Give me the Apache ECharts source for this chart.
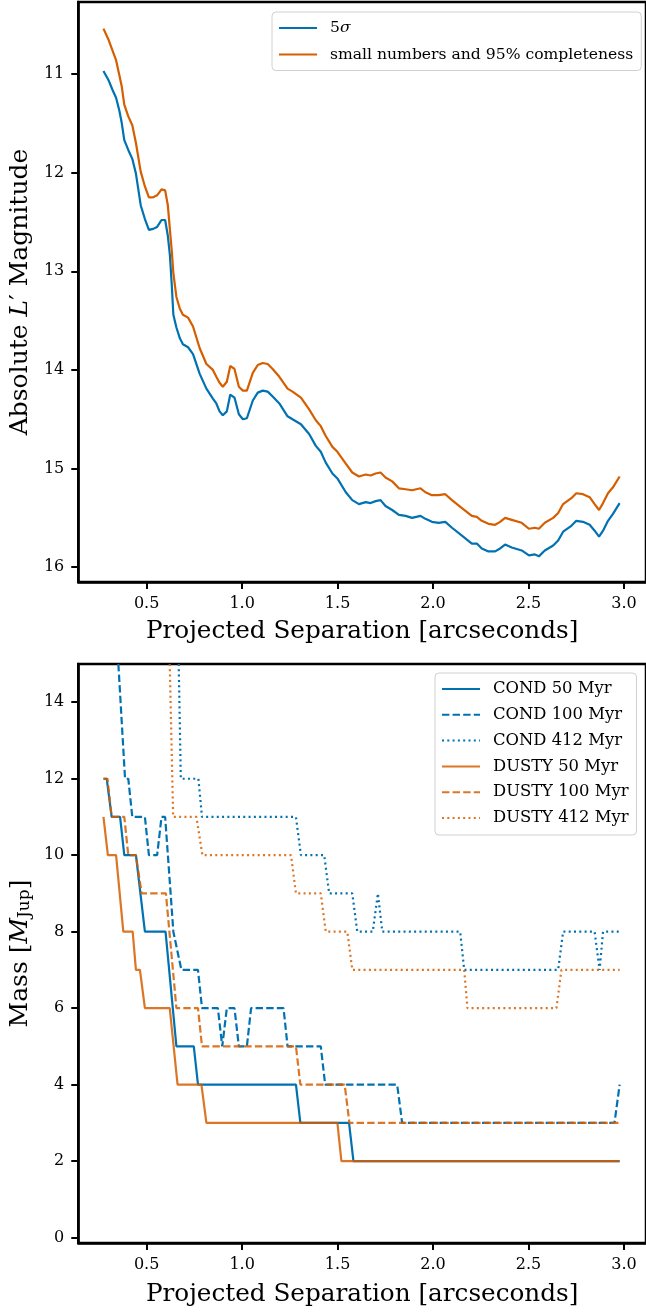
<!DOCTYPE html>
<html>
<head>
<meta charset="utf-8">
<script src="https://cdn.jsdelivr.net/npm/echarts@6/dist/echarts.min.js"></script>
<style>
html, body { margin: 0; padding: 0; background: #fff; }
#chart { width: 646px; height: 1313px; }
</style>
</head>
<body>
<div id="chart"></div>
<script>
// top panel: contrast curves (absolute L' magnitude vs separation)
const sepTop = [0.274, 0.300, 0.321, 0.340, 0.357, 0.370, 0.383, 0.404, 0.425, 0.444,
    0.469, 0.491, 0.512, 0.534, 0.555, 0.578, 0.597, 0.611, 0.622, 0.632,
    0.640, 0.656, 0.674, 0.690, 0.717, 0.743, 0.778, 0.813, 0.847, 0.865,
    0.882, 0.899, 0.920, 0.938, 0.960, 0.983, 1.004, 1.025, 1.056, 1.082,
    1.108, 1.134, 1.160, 1.195, 1.238, 1.264, 1.308, 1.351, 1.386, 1.412,
    1.438, 1.473, 1.499, 1.543, 1.577, 1.612, 1.647, 1.673, 1.699, 1.725,
    1.751, 1.786, 1.821, 1.856, 1.890, 1.934, 1.960, 1.994, 2.029, 2.064,
    2.099, 2.151, 2.203, 2.229, 2.255, 2.290, 2.325, 2.351, 2.377, 2.412,
    2.464, 2.502, 2.533, 2.554, 2.585, 2.629, 2.655, 2.681, 2.724, 2.750,
    2.785, 2.820, 2.846, 2.869, 2.890, 2.916, 2.942, 2.977];
const mag5Sigma = [10.97, 11.06, 11.16, 11.24, 11.37, 11.50, 11.67, 11.77, 11.86, 12.01,
    12.33, 12.47, 12.58, 12.57, 12.55, 12.48, 12.48, 12.64, 12.84, 13.15,
    13.44, 13.57, 13.68, 13.74, 13.77, 13.84, 14.04, 14.19, 14.29, 14.34,
    14.42, 14.46, 14.42, 14.25, 14.28, 14.45, 14.50, 14.49, 14.31, 14.23,
    14.21, 14.22, 14.27, 14.34, 14.47, 14.50, 14.55, 14.65, 14.77, 14.83,
    14.94, 15.05, 15.10, 15.24, 15.32, 15.36, 15.34, 15.35, 15.33, 15.32,
    15.38, 15.42, 15.47, 15.48, 15.50, 15.48, 15.51, 15.54, 15.55, 15.54,
    15.60, 15.68, 15.76, 15.76, 15.81, 15.84, 15.84, 15.81, 15.77, 15.80,
    15.83, 15.88, 15.87, 15.89, 15.83, 15.78, 15.73, 15.64, 15.58, 15.53,
    15.54, 15.57, 15.63, 15.69, 15.63, 15.53, 15.46, 15.35];
const magSmallNum = [10.54, 10.65, 10.76, 10.86, 11.01, 11.13, 11.31, 11.43, 11.52, 11.70,
    11.99, 12.14, 12.25, 12.25, 12.23, 12.17, 12.18, 12.33, 12.58, 12.80,
    13.02, 13.26, 13.38, 13.44, 13.47, 13.56, 13.78, 13.94, 14.00, 14.07,
    14.13, 14.17, 14.12, 13.96, 13.99, 14.17, 14.21, 14.21, 14.03, 13.95,
    13.93, 13.94, 13.99, 14.07, 14.19, 14.22, 14.28, 14.40, 14.51, 14.57,
    14.67, 14.78, 14.83, 14.95, 15.04, 15.08, 15.06, 15.07, 15.05, 15.04,
    15.09, 15.13, 15.20, 15.21, 15.22, 15.20, 15.24, 15.27, 15.27, 15.26,
    15.32, 15.40, 15.48, 15.49, 15.53, 15.56, 15.57, 15.54, 15.50, 15.52,
    15.55, 15.61, 15.60, 15.61, 15.55, 15.50, 15.45, 15.36, 15.30, 15.25,
    15.26, 15.29, 15.36, 15.42, 15.35, 15.25, 15.19, 15.08];

// bottom panel: mass limits [separation, M_Jup]
const cond50 = [[0.274, 12], [0.291, 12], [0.317, 11], [0.361, 11], [0.383, 10], [0.444, 10],
    [0.491, 8], [0.599, 8], [0.656, 5], [0.747, 5], [0.769, 4], [1.282, 4], [1.305, 3],
    [1.560, 3], [1.583, 2], [2.977, 2]];
const cond100 = [[0.352, 15], [0.387, 12], [0.404, 12], [0.425, 11], [0.491, 11], [0.512, 10],
    [0.555, 10], [0.578, 11], [0.597, 11], [0.640, 8], [0.682, 7], [0.769, 7], [0.790, 6],
    [0.873, 6], [0.896, 5], [0.920, 6], [0.960, 6], [0.983, 5], [1.025, 5], [1.047, 6],
    [1.217, 6], [1.238, 5], [1.412, 5], [1.435, 4], [1.812, 4], [1.838, 3], [2.950, 3],
    [2.977, 4]];
const cond412 = [[0.668, 15], [0.679, 12], [0.771, 12], [0.790, 11], [1.282, 11], [1.308, 10],
    [1.430, 10], [1.456, 9], [1.577, 9], [1.603, 8], [1.684, 8], [1.711, 9], [1.734, 8],
    [2.142, 8], [2.163, 7], [2.655, 7], [2.681, 8], [2.846, 8], [2.872, 7], [2.890, 8],
    [2.977, 8]];
const dusty50 = [[0.274, 11], [0.297, 10], [0.340, 10], [0.378, 8], [0.427, 8], [0.444, 7],
    [0.465, 7], [0.491, 6], [0.621, 6], [0.662, 4], [0.787, 4], [0.813, 3], [1.499, 3],
    [1.520, 2], [2.977, 2]];
const dusty100 = [[0.274, 12], [0.295, 12], [0.317, 11], [0.383, 11], [0.404, 10], [0.444, 10],
    [0.474, 9], [0.601, 9], [0.656, 6], [0.769, 6], [0.790, 5], [1.282, 5], [1.305, 4],
    [1.537, 4], [1.562, 3], [2.977, 3]];
const dusty412 = [[0.621, 15], [0.639, 11], [0.761, 11], [0.792, 10], [1.256, 10], [1.282, 9],
    [1.412, 9], [1.438, 8], [1.551, 8], [1.577, 7], [2.163, 7], [2.180, 6], [2.646, 6],
    [2.672, 7], [2.977, 7]];

const sepTicks = [0.5, 1.0, 1.5, 2.0, 2.5, 3.0];
const magTicks = [11, 12, 13, 14, 15, 16];
const massTicks = [0, 2, 4, 6, 8, 10, 12, 14];

const font = 'DejaVu Serif';
const blue = '#0072B2';
const orange = '#D55E00';
const dashed = [7.4, 3.2];
const dotted = [2, 3.3];

function sepAxis(gridIndex, gap) {
    return {
        type: 'value', gridIndex: gridIndex, min: 0.142, max: 3.115,
        name: 'Projected Separation [arcseconds]', nameLocation: 'middle', nameGap: gap,
        nameTextStyle: { fontFamily: font, fontSize: 24.7, color: '#000' },
        axisLine: { show: true, onZero: false, lineStyle: { color: '#000', width: 2.5 } },
        axisTick: { show: true, length: 7, customValues: sepTicks, lineStyle: { color: '#000', width: 2 } },
        axisLabel: { customValues: sepTicks, formatter: v => v.toFixed(1), fontFamily: font, fontSize: 16, color: '#000', margin: 14 },
        splitLine: { show: false }
    };
}

function valAxis(gridIndex, min, max, ticks, inverse, name, rich, gap) {
    return {
        type: 'value', gridIndex: gridIndex, min: min, max: max, inverse: inverse,
        name: name, nameLocation: 'middle', nameGap: gap,
        nameTextStyle: { fontFamily: font, fontSize: 25, color: '#000', rich: rich },
        axisLine: { show: true, onZero: false, lineStyle: { color: '#000', width: 2.5 } },
        axisTick: { show: true, length: 7, customValues: ticks, lineStyle: { color: '#000', width: 2 } },
        axisLabel: { customValues: ticks, fontFamily: font, fontSize: 16, color: '#000', margin: 14 },
        splitLine: { show: false }
    };
}

function line(name, data, color, type, xi, opacity) {
    return {
        name: name, type: 'line', xAxisIndex: xi, yAxisIndex: xi, data: data,
        symbol: 'none', smooth: false, clip: true,
        lineStyle: { color: color, width: 2.2, type: type, opacity: opacity },
        itemStyle: { color: color }
    };
}

const legendBox = {
    orient: 'vertical', backgroundColor: '#fff', borderColor: '#d0d0d0', borderWidth: 1,
    borderRadius: 4, itemWidth: 38, itemHeight: 18,
    itemStyle: { opacity: 0, borderWidth: 0 }
};

let chart = echarts.init(document.getElementById('chart'));

let option = {
    animation: false,
    backgroundColor: '#fff',
    grid: [
        { left: 78, top: 2, width: 570, height: 580, show: true, borderColor: '#000', borderWidth: 2.5 },
        { left: 78, top: 664, width: 570, height: 579, show: true, borderColor: '#000', borderWidth: 2.5 }
    ],
    xAxis: [sepAxis(0, 37), sepAxis(1, 39)],
    yAxis: [
        valAxis(0, 10.27, 16.15, magTicks, true,
            '{n|Absolute }{i|L}{n|′ Magnitude}',
            { n: { fontFamily: font, fontSize: 25 }, i: { fontFamily: font, fontSize: 25, fontStyle: 'italic' } }, 43),
        valAxis(1, -0.14, 15, massTicks, false,
            '{n|Mass [}{i|M}{s|Jup}{n|]}',
            {
                n: { fontFamily: font, fontSize: 25 },
                i: { fontFamily: font, fontSize: 25, fontStyle: 'italic' },
                s: { fontFamily: font, fontSize: 17, verticalAlign: 'bottom', padding: [8, 0, 0, 0] }
            }, 43)
    ],
    legend: [
        Object.assign({}, legendBox, {
            left: 272, top: 12, padding: [8, 8, 8, 6], itemGap: 10.5,
            data: ['5σ', 'small numbers and 95% completeness'],
            formatter: n => n === '5σ' ? '{t|5}{i|σ}' : '{t|' + n + '}',
            textStyle: {
                fontFamily: font, fontSize: 15.6, color: '#000',
                rich: {
                    t: { fontFamily: font, fontSize: 15.6, padding: [0, 0, 0, 8] },
                    i: { fontFamily: font, fontSize: 15.6, fontStyle: 'italic' }
                }
            }
        }),
        Object.assign({}, legendBox, {
            left: 435, top: 673, padding: [8, 8, 9, 6], itemGap: 9.8,
            data: ['COND 50 Myr', 'COND 100 Myr', 'COND 412 Myr', 'DUSTY 50 Myr', 'DUSTY 100 Myr', 'DUSTY 412 Myr'],
            formatter: n => '{t|' + n + '}',
            textStyle: {
                fontFamily: font, fontSize: 16.4, color: '#000',
                rich: { t: { fontFamily: font, fontSize: 16.4, padding: [0, 0, 0, 8] } }
            }
        })
    ],
    series: [
        line('5σ', sepTop.map((s, i) => [s, mag5Sigma[i]]), blue, 'solid', 0, 1),
        line('small numbers and 95% completeness', sepTop.map((s, i) => [s, magSmallNum[i]]), orange, 'solid', 0, 1),
        line('COND 50 Myr', cond50, blue, 'solid', 1, 1),
        line('COND 100 Myr', cond100, blue, dashed, 1, 1),
        line('COND 412 Myr', cond412, blue, dotted, 1, 1),
        line('DUSTY 50 Myr', dusty50, orange, 'solid', 1, 0.85),
        line('DUSTY 100 Myr', dusty100, orange, dashed, 1, 0.85),
        line('DUSTY 412 Myr', dusty412, orange, dotted, 1, 0.85)
    ]
};

chart.setOption(option);
</script>
</body>
</html>
